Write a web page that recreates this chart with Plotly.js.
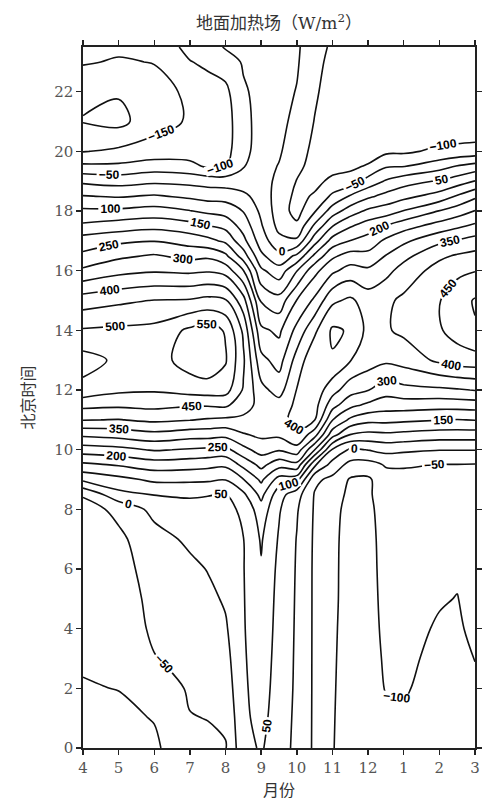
<!DOCTYPE html>
<html>
<head>
<meta charset="utf-8">
<script src="https://cdn.plot.ly/plotly-3.0.1.min.js"></script>
<style>
  html, body { margin: 0; padding: 0; background: #ffffff; }
  #chart { width: 485px; height: 807px; }
</style>
</head>
<body>
<div id="chart"></div>
<script>
// Month positions (April = 4 ... December = 12, then Jan/Feb/Mar as 13/14/15)
const months = [4, 5, 6, 7, 7.5, 8, 8.5, 9, 9.5, 10, 10.5, 11, 11.5, 12, 12.5, 13, 14, 14.5, 15];

// Beijing time, hours
const hours = [0, 1, 2, 3, 4, 5, 6, 7, 8, 8.5, 9, 9.5, 10, 10.5, 11, 11.5, 12,
               13, 14, 15, 16, 16.5, 17, 17.5, 18, 18.5, 19, 19.5, 20, 21, 22, 23, 23.5];

// Surface heating field (W/m2), one column per month position, rows follow `hours`
const apr     = [-120,-112,-103,-95,-88,-82,-77,-72,-70,-45,60,140,225,310,402,465,535,570,505,425,310,260,225,160,110,52,-10,-90,-152,-202,-192,-145,-130];
const may     = [-118,-110,-99,-88,-78,-72,-66,-60,-38,35,85,155,235,320,398,460,510,540,510,440,335,290,240,175,110,45,-20,-90,-140,-215,-195,-155,-140];
const jun     = [-108,-98,-80,-52,-42,-38,-32,-20,15,52,110,175,255,335,410,465,505,525,515,452,345,305,248,185,120,55,-10,-75,-130,-168,-170,-148,-135];
const jul     = [-65,-52,-44,-37,-30,-23,-12,10,35,55,110,170,245,320,402,455,520,575,560,455,340,285,230,170,102,40,-15,-85,-125,-145,-140,-102,-85];
const julMid  = [-60,-49,-42,-33,-22,-12,2,18,36,52,108,165,240,320,395,455,525,590,575,465,345,290,215,152,90,30,-20,-108,-125,-130,-122,-90,-75];
const aug     = [-53,-42,-28,-17,-6,6,16,26,38,48,102,160,235,315,390,460,520,555,545,455,330,260,190,135,80,30,-25,-105,-120,-125,-112,-75,-45];
const augMid  = [35,40,42,44,46,47,48,49,58,90,148,215,285,345,390,420,445,458,440,370,252,175,115,80,48,12,-28,-52,-58,-60,-56,-45,-40];
const sep     = [55,65,72,78,84,90,96,105,130,165,210,265,320,360,385,385,365,315,260,195,110,60,25,5,-10,-22,-30,-35,-38,-38,-36,-33,-30];
const sepMid  = [22,25,28,30,32,34,38,45,55,70,130,220,305,360,390,370,330,280,240,170,70,15,-35,-65,-75,-72,-62,-52,-45,-38,-35,-32,-30];
const oct     = [-12,-10,-8,-7,-6,-5,-4,-2,5,20,120,235,330,395,410,410,402,370,315,252,148,60,-40,-90,-118,-112,-102,-88,-75,-62,-52,-45,-43];
const octMid  = [-58,-58,-58,-58,-58,-58,-58,-57,-55,-53,-40,60,202,320,402,420,430,440,390,310,235,160,80,10,-55,-95,-112,-118,-115,-102,-92,-84,-80];
const nov     = [-97,-96,-95,-94,-93,-92,-92,-91,-88,-80,-62,-20,45,170,252,320,370,445,458,390,290,240,170,98,25,-40,-90,-115,-125,-128,-125,-115,-108];
const novMid  = [-128,-125,-122,-120,-118,-116,-115,-115,-113,-110,-105,-65,-8,98,190,265,320,402,445,410,320,270,202,145,75,5,-80,-110,-125,-135,-132,-125,-120];
const dec     = [-125,-122,-118,-115,-112,-110,-110,-110,-108,-106,-108,-70,2,85,165,240,302,375,385,375,310,265,220,175,110,40,-30,-95,-125,-140,-140,-135,-130];
const decMid  = [-118,-110,-98,-95,-93,-92,-90,-88,-85,-80,-70,-45,15,90,165,225,270,360,395,390,335,302,260,202,125,65,5,-55,-110,-138,-140,-138,-135];
const jan     = [-120,-108,-95,-90,-88,-86,-85,-82,-78,-75,-65,-45,10,85,160,225,285,370,410,410,370,335,290,230,152,85,30,-52,-108,-138,-142,-140,-138];
const feb     = [-135,-128,-120,-112,-104,-97,-90,-85,-80,-76,-66,-51,2,75,152,220,290,410,445,448,420,390,340,270,202,120,55,-20,-90,-140,-145,-142,-140];
const febMid  = [-135,-128,-120,-112,-105,-101,-95,-90,-84,-78,-66,-51,2,75,148,222,295,425,470,475,440,405,355,290,225,155,75,3,-85,-143,-147,-143,-140];
const mar     = [-125,-118,-108,-99,-92,-88,-85,-82,-78,-75,-65,-52,2,75,152,225,302,430,495,505,448,415,370,310,252,190,102,20,-80,-145,-148,-145,-140];

// Axis tick labels
const monthTicks  = [4, 5, 6, 7, 8, 9, 10, 11, 12, 13, 14, 15];
const monthLabels = ['4', '5', '6', '7', '8', '9', '10', '11', '12', '1', '2', '3'];
const hourTicks   = [0, 2, 4, 6, 8, 10, 12, 14, 16, 18, 20, 22];

// Build z[row = hour][col = month]
const columns = [apr, may, jun, jul, julMid, aug, augMid, sep, sepMid, oct, octMid,
                 nov, novMid, dec, decMid, jan, feb, febMid, mar];
const z = hours.map((h, i) => columns.map(col => col[i]));

const trace = {
  type: 'contour',
  x: months,
  y: hours,
  z: z,
  showscale: false,
  hoverinfo: 'skip',
  contours: {
    start: -200,
    end: 600,
    size: 50,
    coloring: 'none',
    showlabels: true,
    labelfont: { family: 'Liberation Sans, Arial, sans-serif', size: 12, color: '#000', weight: 'bold' }
  },
  line: { color: '#111', width: 1.6, smoothing: 1 }
};

const axisFont = { family: 'DejaVu Serif, serif', size: 15, color: '#555' };
const titleFont = { family: 'Noto Sans CJK SC, sans-serif', size: 16, color: '#333' };

const layout = {
  width: 485,
  height: 807,
  margin: { l: 83, r: 10, t: 47, b: 59 },
  paper_bgcolor: '#ffffff',
  plot_bgcolor: '#ffffff',
  showlegend: false,
  title: {
    text: '地面加热场（W/m<sup>2</sup>）',
    font: { family: 'DejaVu Serif, Noto Sans CJK SC, serif', size: 17, color: '#333' },
    x: 0.5, xref: 'paper', xanchor: 'center',
    y: 1 - 23 / 807, yref: 'container', yanchor: 'middle'
  },
  xaxis: {
    range: [4, 15],
    tickvals: monthTicks,
    ticktext: monthLabels,
    ticks: 'outside', ticklen: 5, tickwidth: 1.5, tickcolor: '#222',
    showline: true, linecolor: '#222', linewidth: 1.6, mirror: 'ticks',
    showgrid: false, zeroline: false,
    tickfont: axisFont,
    title: { text: '月份', font: titleFont, standoff: 6 }
  },
  yaxis: {
    range: [0, 23.5],
    tickvals: hourTicks,
    ticks: 'outside', ticklen: 5, tickwidth: 1.5, tickcolor: '#222',
    showline: true, linecolor: '#222', linewidth: 1.6, mirror: 'ticks',
    showgrid: false, zeroline: false,
    tickfont: axisFont,
    title: { text: '北京时间', font: titleFont, standoff: 16 }
  }
};

Plotly.newPlot('chart', [trace], layout, { displayModeBar: false, staticPlot: true });
</script>
</body>
</html>
